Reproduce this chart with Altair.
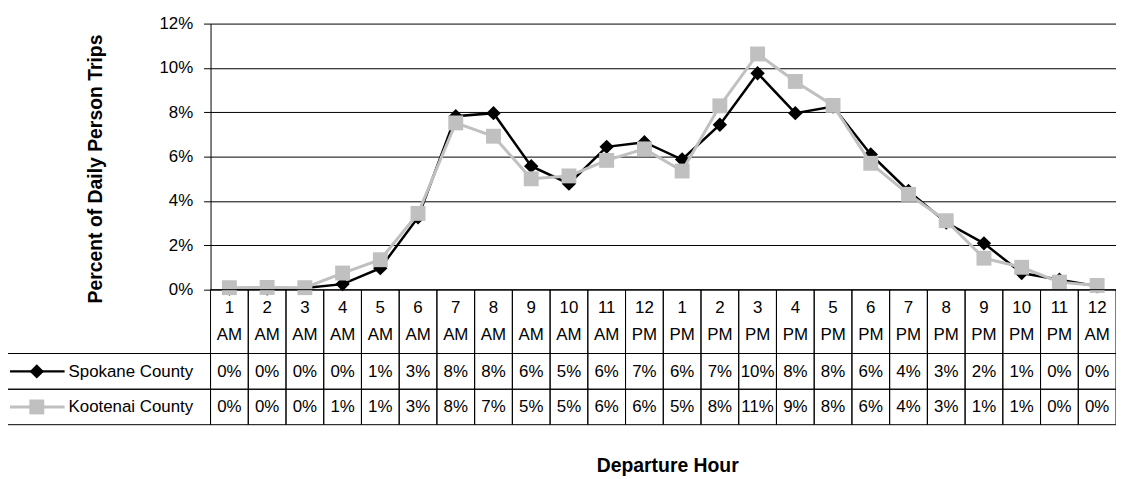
import altair as alt
import pandas as pd

# ---- data ----
hours = ["1 AM", "2 AM", "3 AM", "4 AM", "5 AM", "6 AM", "7 AM", "8 AM", "9 AM", "10 AM", "11 AM", "12 PM",
         "1 PM", "2 PM", "3 PM", "4 PM", "5 PM", "6 PM", "7 PM", "8 PM", "9 PM", "10 PM", "11 PM", "12 AM"]
hour_num = ["1", "2", "3", "4", "5", "6", "7", "8", "9", "10", "11", "12",
            "1", "2", "3", "4", "5", "6", "7", "8", "9", "10", "11", "12"]
ampm = ["AM"] * 11 + ["PM"] * 12 + ["AM"]
series_names = ["Spokane County", "Kootenai County"]
spokane = [0.05, 0.05, 0.08, 0.25, 0.97, 3.26, 7.82, 7.96, 5.57, 4.78, 6.44, 6.65,
           5.87, 7.44, 9.76, 7.96, 8.26, 6.10, 4.45, 3.03, 2.09, 0.75, 0.45, 0.15]
kootenai = [0.09, 0.10, 0.09, 0.75, 1.35, 3.44, 7.52, 6.92, 5.00, 5.13, 5.83, 6.35,
            5.35, 8.29, 10.63, 9.39, 8.31, 5.70, 4.30, 3.11, 1.42, 1.01, 0.34, 0.19]
y_ticks = [0, 0.02, 0.04, 0.06, 0.08, 0.10, 0.12]

FONT = "Liberation Sans Narrow, Arial Narrow, Liberation Sans, Arial, sans-serif"
FS = 17        # regular text size
FT = 19.5      # bold title size
BLACK = "#000000"
GRAY = "#C0C0C0"

def series_df(name, vals):
    return pd.DataFrame({"hour": hours, "series": name, "v": [x / 100 for x in vals]})

df_s = series_df(series_names[0], spokane)
df_k = series_df(series_names[1], kootenai)
df_hours = pd.DataFrame({"hour": hours, "num": hour_num, "ampm": ampm})

H = 268  # plot height

x_enc = alt.X(
    "hour:N",
    sort=hours,
    scale=alt.Scale(type="band", domain=hours, paddingInner=0, paddingOuter=0),
    axis=alt.Axis(labels=False, ticks=False, domain=False, grid=False,
                  title="Departure Hour", titleFont=FONT, titleFontSize=FT,
                  titleFontWeight="bold", titleColor=BLACK, titleX=460, titleY=177,
                  titleBaseline="middle", titleAlign="center"),
)
y_enc = alt.Y(
    "v:Q",
    scale=alt.Scale(domain=[0, 0.12], nice=False, zero=True),
    axis=alt.Axis(values=y_ticks, format=".0%", grid=True, gridColor=BLACK, gridWidth=1,
                  domainColor=BLACK, domainWidth=1, tickColor=BLACK, tickSize=7,
                  labelFont=FONT, labelFontSize=FS, labelColor=BLACK, labelPadding=11,
                  title="Percent of Daily Person Trips", titleFont=FONT, titleFontSize=FT,
                  titleFontWeight="bold", titleColor=BLACK, titleAngle=270,
                  titleX=-116, titleY=146, titleAlign="center", titleBaseline="middle"),
)

s_line = alt.Chart(df_s).mark_line(color=BLACK, strokeWidth=2.5).encode(x=x_enc, y=y_enc)
s_pts = alt.Chart(df_s).mark_point(shape="diamond", filled=True, color=BLACK, size=210, opacity=1).encode(x=x_enc, y=y_enc)
k_line = alt.Chart(df_k).mark_line(color=GRAY, strokeWidth=3).encode(x=x_enc, y=y_enc)
k_pts = alt.Chart(df_k).mark_point(shape="square", filled=True, color=GRAY, size=225, opacity=1).encode(x=x_enc, y=y_enc)

# ---- data table below the plot ----
ROW_HDR = (H, 332.3)
ROW_S = (332.3, 368.3)
ROW_K = (368.3, 404)

hdr_cells = alt.Chart(df_hours).mark_rect(fill="white", fillOpacity=0, stroke=BLACK, strokeWidth=1).encode(
    x=x_enc, y=alt.value(ROW_HDR[0]), y2=alt.value(ROW_HDR[1]))
hdr_num = alt.Chart(df_hours).mark_text(font=FONT, fontSize=FS, color=BLACK, baseline="middle").encode(
    x=x_enc, y=alt.value(286.5), text="num:N")
hdr_ampm = alt.Chart(df_hours).mark_text(font=FONT, fontSize=FS, color=BLACK, baseline="middle").encode(
    x=x_enc, y=alt.value(313.5), text="ampm:N")

def row_layers(df, row):
    cells = alt.Chart(df).mark_rect(fill="white", fillOpacity=0, stroke=BLACK, strokeWidth=1).encode(
        x=x_enc, y=alt.value(row[0]), y2=alt.value(row[1]))
    txt = alt.Chart(df).mark_text(font=FONT, fontSize=FS, color=BLACK, baseline="middle").encode(
        x=x_enc, y=alt.value((row[0] + row[1]) / 2 + 0.5), text=alt.Text("v:Q", format=".0%"))
    return [cells, txt]

def legend_layers(name, row, color, shape, size, width):
    d = pd.DataFrame({"series": [name]})
    ym = (row[0] + row[1]) / 2
    box = alt.Chart(d).mark_rect(fill="white", fillOpacity=0, stroke=BLACK, strokeWidth=1).encode(
        x=alt.value(-207), x2=alt.value(0), y=alt.value(row[0]), y2=alt.value(row[1]))
    ln = alt.Chart(d).mark_rule(color=color, strokeWidth=width).encode(
        x=alt.value(-202), x2=alt.value(-147), y=alt.value(ym))
    sym = alt.Chart(d).mark_point(shape=shape, filled=True, color=color, size=size, opacity=1).encode(
        x=alt.value(-175), y=alt.value(ym))
    txt = alt.Chart(d).mark_text(font=FONT, fontSize=FS, color=BLACK, align="left", baseline="middle").encode(
        x=alt.value(-143), y=alt.value(ym + 0.5), text="series:N")
    return [box, ln, sym, txt]

layers = [s_line, s_pts, k_line, k_pts, hdr_cells, hdr_num, hdr_ampm]
layers += row_layers(df_s, ROW_S) + row_layers(df_k, ROW_K)
layers += legend_layers(series_names[0], ROW_S, BLACK, "diamond", 210, 2.5)
layers += legend_layers(series_names[1], ROW_K, GRAY, "square", 225, 3)

chart = alt.layer(*layers).properties(
    width=912, height=H,
    padding={"left": 204, "top": 14, "right": 0, "bottom": 189},
    autosize=alt.AutoSizeParams(type="none"),
    background="white",
).configure_view(strokeWidth=0)

chart.save("out.html", embed_options={"renderer": "svg", "actions": False})
